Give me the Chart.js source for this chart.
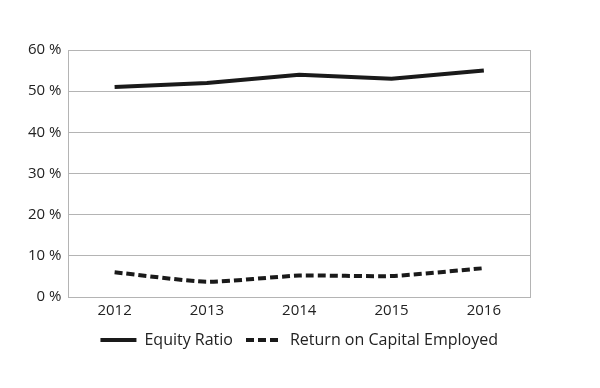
<!DOCTYPE html>
<html lang="en">
<head>
    <meta charset="UTF-8">
    <title>Equity Ratio and ROCE</title>
    <script src="https://cdn.jsdelivr.net/npm/chart.js"></script>
    <style>
        body { margin: 0; background: #fff; }
        canvas { display: block; }
    </style>
</head>
<body>
    <canvas id="chart" width="600" height="388"></canvas>
    <script>
        const years = ['2012', '2013', '2014', '2015', '2016'];
        const equityRatio = [51, 52, 54, 53, 55];
        const returnOnCapital = [6, 3.7, 5.2, 5.1, 7];

        const gridGrey = '#b4b4b4';
        const textColor = '#222';
        const dashes = [[], [8, 4]];

        new Chart(document.getElementById('chart'), {
            type: 'line',
            data: {
                labels: years,
                datasets: [{
                    label: 'Equity Ratio',
                    data: equityRatio,
                    borderColor: '#1a1a1a',
                    borderWidth: 4,
                    borderDash: dashes[0],
                    pointRadius: 0,
                    tension: 0
                }, {
                    label: 'Return on Capital Employed',
                    data: returnOnCapital,
                    borderColor: '#1a1a1a',
                    borderWidth: 4,
                    borderDash: dashes[1],
                    pointRadius: 0,
                    tension: 0.2
                }]
            },
            options: {
                responsive: false,
                animation: false,
                layout: { padding: { top: 50, right: 70, left: 21, bottom: 30 } },
                scales: {
                    x: {
                        offset: true,
                        grid: { display: false, drawTicks: false },
                        border: { display: true, color: gridGrey },
                        ticks: { color: textColor, font: { family: 'Open Sans', size: 15 }, padding: 5 },
                        // pull the legend a little closer to the year labels
                        afterFit: s => { s.height -= 6; }
                    },
                    y: {
                        min: 0,
                        max: 60,
                        ticks: {
                            stepSize: 10,
                            color: textColor,
                            padding: 7,
                            font: { family: 'Open Sans', size: 15 },
                            callback: v => v + ' %'
                        },
                        grid: { color: gridGrey, drawTicks: false },
                        border: { display: true, color: gridGrey }
                    },
                    yr: {
                        position: 'right',
                        min: 0,
                        max: 60,
                        ticks: { display: false },
                        grid: { drawOnChartArea: false, drawTicks: false },
                        border: { display: true, color: gridGrey }
                    }
                },
                plugins: {
                    legend: {
                        position: 'bottom',
                        fullSize: false,
                        labels: {
                            usePointStyle: true,
                            pointStyle: 'line',
                            pointStyleWidth: 36,
                            color: textColor,
                            padding: 13,
                            font: { family: 'Open Sans', size: 16 },
                            generateLabels: chart => Chart.defaults.plugins.legend.labels.generateLabels(chart)
                                .map((item, i) => Object.assign(item, { lineDash: dashes[i], lineWidth: 4 }))
                        }
                    },
                    tooltip: { enabled: false }
                }
            }
        });
    </script>
</body>
</html>
